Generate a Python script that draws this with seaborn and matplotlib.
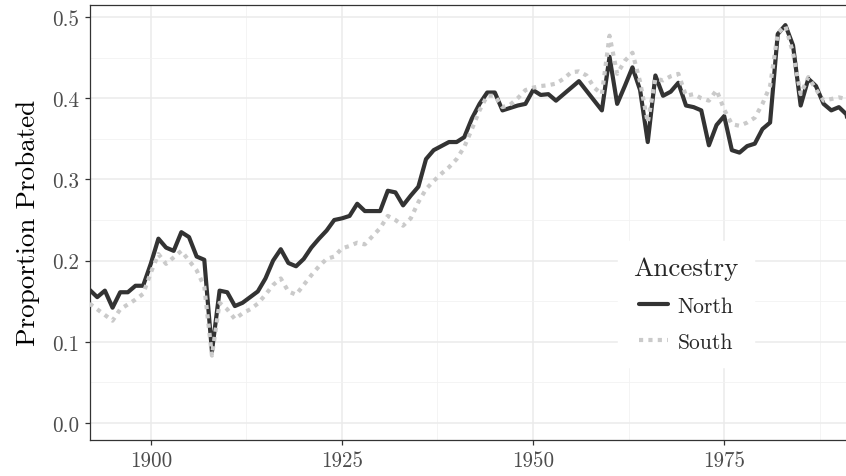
import numpy as np
import pandas as pd
import seaborn as sns
import matplotlib
matplotlib.use("Agg")
import matplotlib.pyplot as plt
from matplotlib.ticker import FixedLocator, FuncFormatter
from matplotlib.lines import Line2D

# Annual share of cases probated, by ancestry
years = list(range(1892, 1993))

north = [
    0.164, 0.155, 0.163, 0.142, 0.161, 0.161, 0.169, 0.169, 0.196, 0.227,  # 1892-1901
    0.216, 0.212, 0.235, 0.229, 0.205, 0.201, 0.088, 0.163, 0.161, 0.144,  # 1902-1911
    0.148, 0.155, 0.162, 0.178, 0.200, 0.214, 0.197, 0.193, 0.202, 0.216,  # 1912-1921
    0.227, 0.237, 0.250, 0.252, 0.255, 0.270, 0.261, 0.261, 0.261, 0.286,  # 1922-1931
    0.284, 0.268, 0.280, 0.291, 0.325, 0.336, 0.341, 0.346, 0.346, 0.352,  # 1932-1941
    0.375, 0.393, 0.407, 0.407, 0.385, 0.388, 0.391, 0.393, 0.410, 0.404,  # 1942-1951
    0.405, 0.397, 0.405, 0.413, 0.421, 0.409, 0.397, 0.385, 0.451, 0.393,  # 1952-1961
    0.415, 0.438, 0.410, 0.346, 0.428, 0.403, 0.408, 0.419, 0.391, 0.389,  # 1962-1971
    0.385, 0.342, 0.367, 0.378, 0.336, 0.333, 0.341, 0.344, 0.362, 0.370,  # 1972-1981
    0.479, 0.490, 0.465, 0.391, 0.424, 0.415, 0.393, 0.385, 0.389, 0.380,  # 1982-1991
    0.320,                                                                 # 1992
]

south = [
    0.147, 0.140, 0.133, 0.126, 0.140, 0.146, 0.152, 0.159, 0.185, 0.208,  # 1892-1901
    0.196, 0.204, 0.212, 0.200, 0.188, 0.168, 0.083, 0.148, 0.140, 0.128,  # 1902-1911
    0.135, 0.140, 0.147, 0.158, 0.170, 0.178, 0.162, 0.158, 0.170, 0.182,  # 1912-1921
    0.193, 0.202, 0.205, 0.215, 0.218, 0.222, 0.220, 0.230, 0.240, 0.255,  # 1922-1931
    0.250, 0.243, 0.252, 0.272, 0.288, 0.298, 0.307, 0.315, 0.325, 0.340,  # 1932-1941
    0.362, 0.385, 0.403, 0.403, 0.389, 0.392, 0.400, 0.410, 0.413, 0.415,  # 1942-1951
    0.416, 0.418, 0.424, 0.432, 0.433, 0.428, 0.413, 0.405, 0.477, 0.430,  # 1952-1961
    0.446, 0.456, 0.420, 0.370, 0.424, 0.422, 0.427, 0.430, 0.403, 0.405,  # 1962-1971
    0.400, 0.397, 0.410, 0.386, 0.368, 0.366, 0.370, 0.376, 0.393, 0.415,  # 1972-1981
    0.480, 0.489, 0.456, 0.405, 0.426, 0.411, 0.397, 0.399, 0.401, 0.399,  # 1982-1991
    0.400,                                                                 # 1992
]

groups = ["North", "South"]
x_ticks = [1900, 1925, 1950, 1975]
y_ticks = [0.0, 0.1, 0.2, 0.3, 0.4, 0.5]

df = pd.DataFrame({
    "year": years * 2,
    "prop": north + south,
    "Ancestry": ["North"] * len(years) + ["South"] * len(years),
})

sns.set_theme(style="white")
plt.rcParams["font.family"] = ["cmr10", "DejaVu Serif"]
plt.rcParams["axes.formatter.use_mathtext"] = True

fig = plt.figure(figsize=(8.46, 4.77), dpi=100)
ax = fig.add_axes([89.6 / 846, 36.3 / 477, 1 - 89.6 / 846 + 0.002, (440.7 - 6) / 477])

colors = {"North": "#333333", "South": "#CACACA"}
lw = 3.0
dots = (1.0, 1.25)
sns.lineplot(data=df[df.Ancestry == "North"], x="year", y="prop", color=colors["North"],
             lw=lw, ax=ax, legend=False, zorder=3)
sns.lineplot(data=df[df.Ancestry == "South"], x="year", y="prop", color=colors["South"],
             lw=lw, ax=ax, legend=False, zorder=4, dash_capstyle="butt")
# dotted style for the South line
ax.lines[-1].set_dashes(dots)

ax.set_xlim(1892.0, 1991.15)
ax.set_ylim(-0.0206, 0.5148)

ax.xaxis.set_major_locator(FixedLocator(x_ticks))
ax.yaxis.set_major_locator(FixedLocator(y_ticks))
ax.xaxis.set_minor_locator(FixedLocator([1887.5, 1912.5, 1937.5, 1962.5, 1987.5]))
ax.yaxis.set_minor_locator(FixedLocator([0.05, 0.15, 0.25, 0.35, 0.45]))
ax.yaxis.set_major_formatter(FuncFormatter(lambda v, p: f"{v:.1f}"))
ax.xaxis.set_major_formatter(FuncFormatter(lambda v, p: f"{int(v)}"))

ax.grid(which="major", color="#EBEBEB", lw=1.1, zorder=0)
ax.grid(which="minor", color="#F2F2F2", lw=0.6, zorder=0)
ax.set_axisbelow(True)

for side in ["left", "bottom", "top"]:
    ax.spines[side].set_color("#333333")
    ax.spines[side].set_linewidth(0.9)
ax.spines["right"].set_visible(False)

ax.tick_params(axis="both", which="major", direction="out", length=3.5, width=0.9,
               color="#333333", labelcolor="#4D4D4D", labelsize=15.2, pad=4,
               bottom=True, left=True)
ax.tick_params(axis="both", which="minor", length=0)

ax.set_xlabel("")
ax.set_ylabel("Proportion Probated", fontsize=19.5, color="black", labelpad=9)

handles = [
    Line2D([], [], color=colors["North"], lw=lw),
    Line2D([], [], color=colors["South"], lw=lw, dashes=dots, dash_capstyle="butt"),
]
leg = ax.legend(handles, groups, title="Ancestry", loc="center",
                bbox_to_anchor=(0.787, 0.312), frameon=True, fontsize=15.5,
                title_fontsize=19.5, handlelength=1.35, handletextpad=0.45,
                labelspacing=0.75, borderpad=0.7, fancybox=False)
leg.get_frame().set_facecolor("white")
leg.get_frame().set_edgecolor("white")
leg.get_frame().set_alpha(1.0)
leg.set_zorder(5)

fig.savefig("out.png", dpi=100)
